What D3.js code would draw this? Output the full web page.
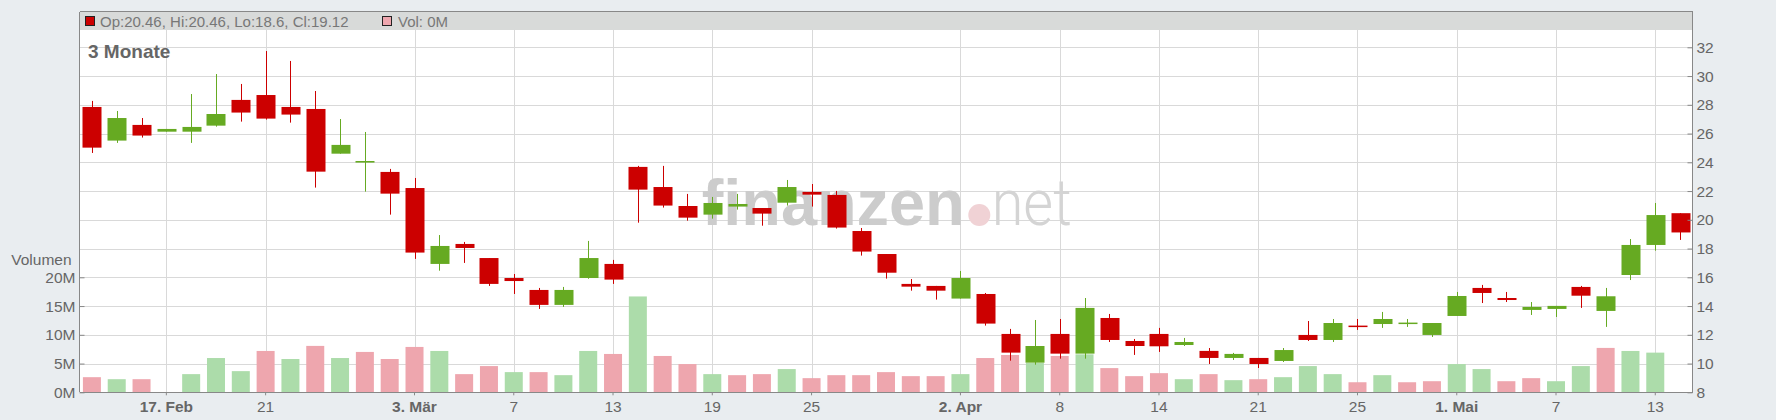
<!DOCTYPE html>
<html>
<head>
<meta charset="utf-8">
<script src="https://cdn.jsdelivr.net/npm/d3@7"></script>
<style>
html, body { margin: 0; padding: 0; background: #e9edf0; }
svg { display: block; font-family: "Liberation Sans", Arial, sans-serif; }
</style>
</head>
<body>
<svg id="chart" width="1776" height="420"></svg>
<script>
// trading days (ordinal x axis)
var dates = ["2025-02-12","2025-02-13","2025-02-14","2025-02-17","2025-02-18","2025-02-19","2025-02-20","2025-02-21",
  "2025-02-24","2025-02-25","2025-02-26","2025-02-27","2025-02-28","2025-03-03","2025-03-04","2025-03-05","2025-03-06","2025-03-07",
  "2025-03-10","2025-03-11","2025-03-12","2025-03-13","2025-03-14","2025-03-17","2025-03-18","2025-03-19","2025-03-20","2025-03-21",
  "2025-03-24","2025-03-25","2025-03-26","2025-03-27","2025-03-28","2025-03-31","2025-04-01","2025-04-02","2025-04-03","2025-04-04",
  "2025-04-07","2025-04-08","2025-04-09","2025-04-10","2025-04-11","2025-04-14","2025-04-15","2025-04-16","2025-04-17","2025-04-21",
  "2025-04-22","2025-04-23","2025-04-24","2025-04-25","2025-04-28","2025-04-29","2025-04-30","2025-05-01","2025-05-02","2025-05-05",
  "2025-05-06","2025-05-07","2025-05-08","2025-05-09","2025-05-12","2025-05-13","2025-05-14"];

var open = [27.85,25.51,26.6,26.13,26.13,26.55,28.34,28.68,27.85,27.71,24.6,23.98,23.33,22.21,16.93,18.32,17.34,15.95,15.12,14.08,
  15.95,16.93,23.68,22.28,20.96,20.36,20.92,20.82,21.19,21.94,21.73,19.22,17.62,15.54,15.40,14.52,14.84,12.06,10.06,12.06,
  10.69,13.17,11.57,12.06,11.29,10.88,10.39,10.39,10.18,11.99,11.64,12.64,12.75,12.75,11.99,13.31,15.26,14.56,13.73,13.80,
  15.33,13.66,16.16,18.25,20.46];
var high = [28.27,27.57,27.08,26.32,28.75,30.14,29.45,31.74,31.05,28.96,27.01,26.11,23.54,22.91,18.94,18.46,17.34,16.23,15.26,15.33,
  18.53,17.21,23.75,23.75,21.80,21.59,21.80,20.82,22.77,22.49,22.01,19.43,17.62,15.88,15.40,16.44,14.91,12.41,13.03,13.10,
  14.56,13.45,11.71,12.48,11.78,11.08,10.74,10.39,11.08,12.96,13.10,13.10,13.59,13.10,12.82,14.98,15.47,14.98,14.28,14.01,
  15.40,15.26,18.66,21.17,20.46];
var low = [24.65,25.35,25.72,26.13,25.35,26.48,26.83,26.97,26.76,22.24,24.6,21.96,20.36,17.28,16.46,17.0,15.40,14.84,13.80,13.94,
  15.90,15.54,19.80,20.85,19.94,20.08,20.71,19.59,20.99,20.92,19.39,17.51,15.91,15.07,14.45,14.52,12.64,10.20,9.92,10.34,
  10.34,11.50,10.60,10.81,11.22,9.97,10.25,9.69,10.11,11.57,11.50,12.34,12.48,12.55,11.85,13.31,14.21,14.28,13.38,13.24,
  13.87,12.55,15.81,17.85,18.6];
var close = [25.02,27.08,25.86,26.32,26.46,27.36,27.46,27.04,27.32,23.35,25.21,24.09,21.82,17.72,18.18,18.04,15.54,15.74,14.08,15.12,
  17.34,15.84,22.10,20.99,20.15,21.17,21.10,20.43,22.28,21.75,19.46,17.79,16.32,15.35,15.07,15.95,12.78,10.76,11.22,10.69,
  13.87,11.64,11.22,11.20,11.50,10.39,10.67,9.97,10.94,11.64,12.82,12.55,13.10,12.85,12.82,14.70,14.91,14.42,13.94,14.01,
  14.72,14.68,18.25,20.33,19.12];
// volume in millions
var volume = [2.63,2.28,2.28,0,3.16,5.96,3.68,7.19,5.79,8.07,5.96,7.02,5.79,7.89,7.19,3.16,4.56,3.51,3.51,2.98,
  7.19,6.67,16.67,6.32,4.91,3.16,2.98,3.16,4.04,2.46,2.98,2.98,3.51,2.81,2.81,3.16,5.96,6.49,5.09,6.32,
  6.6,4.21,2.81,3.33,2.28,3.16,2.11,2.28,2.63,4.56,3.16,1.75,2.98,1.75,1.93,4.91,4.04,1.93,2.46,1.93,
  4.56,7.72,7.19,6.9,0];

var xTickDates = ["2025-02-17","2025-02-21","2025-03-03","2025-03-07","2025-03-13","2025-03-19","2025-03-25",
  "2025-04-02","2025-04-08","2025-04-14","2025-04-21","2025-04-25","2025-05-01","2025-05-07","2025-05-13"];
var xTickLabels = ["17. Feb","21","3. Mär","7","13","19","25","2. Apr","8","14","21","25","1. Mai","7","13"];
var priceTicks = [8,10,12,14,16,18,20,22,24,26,28,30,32];
var volumeTicks = [0,5,10,15,20];

var svg = d3.select("#chart"),
    plotLeft = 79.5,
    plotRight = 1692.5,
    plotTop = 30,
    plotBottom = 392.3,
    red = "#cc0000",
    green = "#66aa22",
    pink = "#eea6ae",
    lightGreen = "#acdcaa",
    textColor = "#666";

var x = d3.scaleBand().domain(dates).range([plotLeft, plotRight]).paddingInner(0).paddingOuter(0);
var y = d3.scaleLinear().domain([8, 32]).range([plotBottom, 47.3]);
var yVol = d3.scaleLinear().domain([0, 20]).range([plotBottom, 277.3]);
var step = x.step();
function cx(d) { return x(d) + step / 2; }

// header band + plot background
svg.append("rect").attr("x", plotLeft).attr("y", 12).attr("width", plotRight - plotLeft).attr("height", plotTop - 12).attr("fill", "#d8dad9");
svg.append("rect").attr("x", plotLeft).attr("y", plotTop).attr("width", plotRight - plotLeft).attr("height", plotBottom - plotTop).attr("fill", "#fff");

// grid
svg.append("g").selectAll("line").data(priceTicks.slice(1)).enter().append("line")
  .attr("x1", plotLeft).attr("x2", plotRight)
  .attr("y1", function (d) { return Math.round(y(d)) + 0.5; })
  .attr("y2", function (d) { return Math.round(y(d)) + 0.5; })
  .attr("stroke", "#d9d9d9");
svg.append("g").selectAll("line").data(xTickDates).enter().append("line")
  .attr("x1", function (d) { return Math.round(cx(d)) + 0.5; })
  .attr("x2", function (d) { return Math.round(cx(d)) + 0.5; })
  .attr("y1", plotTop).attr("y2", plotBottom)
  .attr("stroke", "#d9d9d9");

// watermark
var wm = svg.append("g");
wm.append("text").attr("x", 701.7).attr("y", 225).attr("font-size", 64).attr("font-weight", "bold")
  .attr("fill", "#cccccc").attr("textLength", 263).attr("lengthAdjust", "spacingAndGlyphs").text("finanzen");
wm.append("circle").attr("cx", 979.3).attr("cy", 215).attr("r", 11).attr("fill", "#f0d2d5");
wm.append("text").attr("x", 991.7).attr("y", 225).attr("font-size", 64).attr("font-weight", 300)
  .style("font-family", "Roboto, 'Liberation Sans', sans-serif")
  .attr("fill", "#d4d4d4").attr("textLength", 80).attr("lengthAdjust", "spacingAndGlyphs").text("net");

// volume bars (colour from close vs previous close)
var idx = d3.range(dates.length);
var volW = 18, bodyW = 19;
svg.append("g").selectAll("rect").data(idx.filter(function (i) { return volume[i] > 0; })).enter().append("rect")
  .attr("x", function (i) { return cx(dates[i]) - volW / 2; })
  .attr("width", volW)
  .attr("y", function (i) { return yVol(volume[i]); })
  .attr("height", function (i) { return plotBottom - yVol(volume[i]); })
  .attr("fill", function (i) {
    var up = i > 0 ? close[i] >= close[i - 1] : close[i] >= open[i];
    return up ? lightGreen : pink;
  });

// candles
var candle = svg.append("g").selectAll("g").data(idx).enter().append("g");
candle.append("line")
  .attr("x1", function (i) { return Math.round(cx(dates[i])) + 0.5; })
  .attr("x2", function (i) { return Math.round(cx(dates[i])) + 0.5; })
  .attr("y1", function (i) { return y(high[i]); })
  .attr("y2", function (i) { return y(low[i]); })
  .attr("stroke", function (i) { return close[i] >= open[i] ? green : red; })
  .attr("stroke-width", 1);
candle.append("rect")
  .attr("x", function (i) { return Math.round(cx(dates[i]) - bodyW / 2) + 0.5; })
  .attr("width", bodyW)
  .attr("y", function (i) { return y(Math.max(open[i], close[i])); })
  .attr("height", function (i) { return Math.max(1.5, Math.abs(y(open[i]) - y(close[i]))); })
  .attr("fill", function (i) { return close[i] >= open[i] ? green : red; });

// frame
var frame = svg.append("g").attr("stroke", "#888").attr("shape-rendering", "crispEdges");
frame.append("line").attr("x1", plotLeft).attr("x2", plotRight).attr("y1", 11.5).attr("y2", 11.5);
frame.append("line").attr("x1", plotLeft).attr("x2", plotLeft).attr("y1", 11.5).attr("y2", plotBottom);
frame.append("line").attr("x1", plotRight).attr("x2", plotRight).attr("y1", 11.5).attr("y2", plotBottom);
frame.append("line").attr("x1", plotLeft).attr("x2", plotRight).attr("y1", plotBottom).attr("y2", plotBottom).attr("stroke-width", 1.5);

// axes
var priceAxis = svg.append("g").attr("transform", "translate(" + plotRight + ",0)")
  .call(d3.axisRight(y).tickValues(priceTicks).tickSize(-5).tickPadding(4));
var volAxis = svg.append("g").attr("transform", "translate(" + plotLeft + ",0)")
  .call(d3.axisLeft(yVol).tickValues(volumeTicks).tickSize(-5).tickPadding(4).tickFormat(function (d) { return d + "M"; }));
var xAxis = svg.append("g").attr("transform", "translate(0," + plotBottom + ")")
  .call(d3.axisBottom(x).tickValues(xTickDates).tickSize(3).tickPadding(6)
    .tickFormat(function (d, i) { return xTickLabels[i]; }));
[priceAxis, volAxis, xAxis].forEach(function (a) {
  a.select(".domain").remove();
  a.selectAll(".tick line").attr("stroke", "#888");
  a.selectAll(".tick text").attr("fill", textColor).attr("font-size", 15.5)
    .style("font-family", "'Liberation Sans', Arial, sans-serif");
});
xAxis.selectAll(".tick text").attr("font-weight", function (d, i) { return /[a-zä]/i.test(xTickLabels[i]) ? "bold" : null; });

// texts
svg.append("text").attr("x", 71.6).attr("y", 265).attr("text-anchor", "end").attr("font-size", 15.5)
  .attr("fill", textColor).text("Volumen");
svg.append("text").attr("x", 88).attr("y", 58).attr("font-size", 19).attr("font-weight", "bold")
  .attr("fill", textColor).text("3 Monate");

// legend in header
var last = dates.length - 1;
svg.append("rect").attr("x", 85.5).attr("y", 16.5).attr("width", 9).attr("height", 9)
  .attr("fill", close[last] >= open[last] ? green : red).attr("stroke", "#222");
svg.append("text").attr("x", 100).attr("y", 26.5).attr("font-size", 15).attr("fill", "#777")
  .text("Op:" + open[last] + ", Hi:" + high[last] + ", Lo:" + low[last] + ", Cl:" + close[last]);
svg.append("rect").attr("x", 382.5).attr("y", 16.5).attr("width", 9).attr("height", 9)
  .attr("fill", pink).attr("stroke", "#222");
svg.append("text").attr("x", 398).attr("y", 26.5).attr("font-size", 15).attr("fill", "#777")
  .text("Vol: " + volume[last] + "M");
</script>
</body>
</html>
